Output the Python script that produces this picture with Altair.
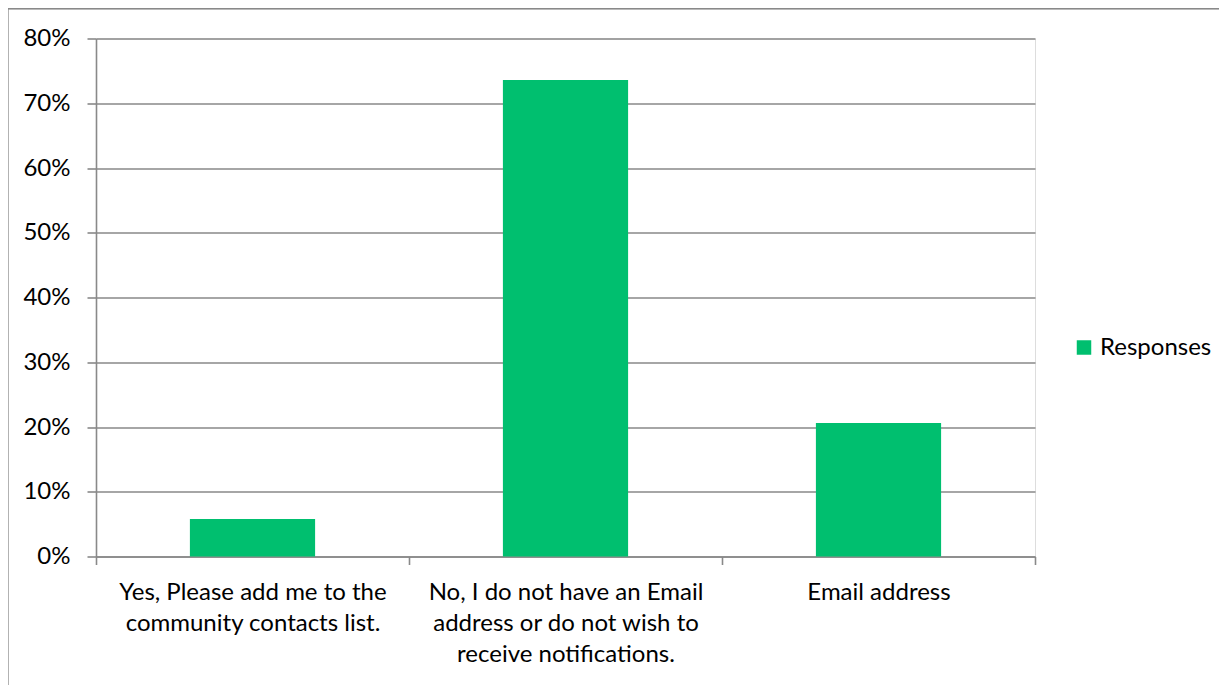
import altair as alt
import pandas as pd

categories = [
    "Yes, Please add me to the community contacts list.",
    "No, I do not have an Email address or do not wish to receive notifications.",
    "Email address",
]
label_lines = [
    ["Yes, Please add me to the", "community contacts list."],
    ["No, I do not have an Email", "address or do not wish to", "receive notifications."],
    ["Email address"],
]
values = [0.058, 0.736, 0.206]
series_name = "Responses"
y_ticks = [0, 0.1, 0.2, 0.3, 0.4, 0.5, 0.6, 0.7, 0.8]

df = pd.DataFrame({"category": categories, "value": values, "series": series_name})

# label expression: map each category to its wrapped lines
expr = "''"
for cat, lines in reversed(list(zip(categories, label_lines))):
    arr = "[" + ",".join("'" + l.replace("'", "\\'") + "'" for l in lines) + "]"
    expr = f"datum.label == '{cat}' ? {arr} : ({expr})"

FONT = "Lato"
FS = 24
GRAY = "#898989"
LW = 1.6
W, H = 939, 518

bars = alt.Chart(df).mark_bar(width=alt.RelativeBandSize(0.4)).encode(
    x=alt.X(
        "category:N",
        sort=categories,
        scale=alt.Scale(paddingInner=0, paddingOuter=0),
        axis=alt.Axis(
            title=None,
            labelAngle=0,
            labelExpr=expr,
            labelFont=FONT,
            labelFontSize=FS,
            labelColor="#000000",
            labelLineHeight=31,
            labelPadding=16,
            labelBaseline="top",
            labelLimit=0,
            tickBand="extent",
            tickSize=8,
            tickColor=GRAY,
            tickWidth=LW,
            domainColor=GRAY,
            domainWidth=LW,
            grid=False,
        ),
    ),
    y=alt.Y(
        "value:Q",
        scale=alt.Scale(domain=[0, 0.8], nice=False),
        axis=alt.Axis(
            title=None,
            values=y_ticks,
            format=".0%",
            labelFont=FONT,
            labelFontSize=FS,
            labelColor="#000000",
            labelPadding=17,
            tickSize=9,
            tickColor=GRAY,
            tickWidth=LW,
            domainColor=GRAY,
            domainWidth=LW,
            gridColor=GRAY,
            gridWidth=LW,
            grid=True,
        ),
    ),
    color=alt.Color(
        "series:N",
        scale=alt.Scale(range=["#00BF6F"]),
        legend=alt.Legend(
            title=None,
            orient="none",
            legendX=976,
            legendY=297,
            symbolType="square",
            symbolSize=210,
            symbolStrokeWidth=0,
            labelFont=FONT,
            labelFontSize=FS,
            labelColor="#000000",
            labelOffset=4,
            labelLimit=0,
        ),
    ),
)

border = alt.Chart(df).mark_rect(filled=False, stroke=GRAY, strokeWidth=LW).encode(
    x=alt.value(-88.5),
    y=alt.value(-30),
    x2=alt.value(W + 400),
    y2=alt.value(H + 400),
)

chart = alt.layer(bars, border).properties(
    width=W,
    height=H,
    autosize=alt.AutoSizeParams(type="none"),
    padding={"left": 88, "top": 30.5, "right": 184, "bottom": 130},
).configure_view(stroke=None).configure(background="white")

chart.save("out.html", embed_options={"renderer": "svg", "actions": False})
